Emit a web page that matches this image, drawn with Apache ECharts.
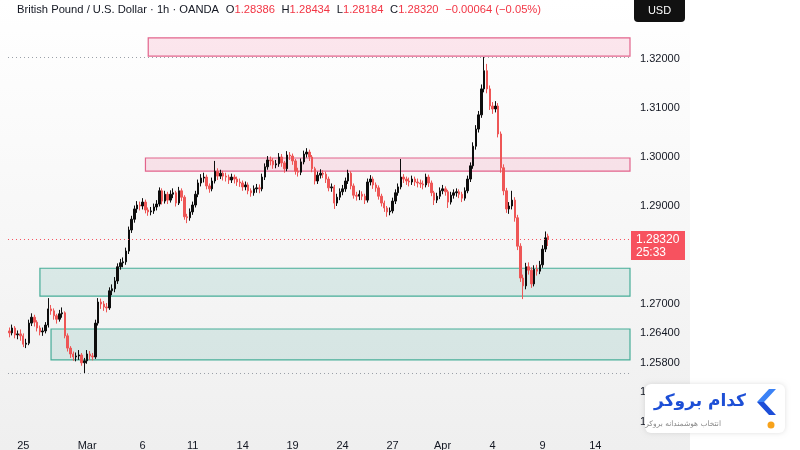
<!DOCTYPE html>
<html>
<head>
<meta charset="utf-8">
<title>GBPUSD 1h</title>
<script src="https://cdn.jsdelivr.net/npm/echarts@6/dist/echarts.min.js"></script>
<style>
  html, body { margin:0; padding:0; background:#fff; }
  #main { width:800px; height:450px; }
</style>
</head>
<body>
<div id="main"></div>
<script type="text/javascript">
// candles, one per 4h slot: [open, close, low, high]
var candles = [
  [1.2645,1.2641,1.2632,1.2652],[1.2641,1.2651,1.2636,1.2658],[1.2651,1.2637,1.2630,1.2655],[1.2637,1.2639,1.2628,1.2646],
  [1.2639,1.2635,1.2625,1.2648],[1.2635,1.2618,1.2612,1.2640],[1.2618,1.2620,1.2610,1.2629],[1.2620,1.2661,1.2616,1.2668],
  [1.2661,1.2673,1.2655,1.2681],[1.2673,1.2663,1.2654,1.2678],[1.2663,1.2651,1.2644,1.2667],[1.2651,1.2643,1.2636,1.2656],
  [1.2643,1.2645,1.2635,1.2652],[1.2645,1.2657,1.2640,1.2663],[1.2657,1.2690,1.2652,1.2712],[1.2690,1.2686,1.2678,1.2698],
  [1.2686,1.2676,1.2668,1.2691],[1.2676,1.2669,1.2660,1.2680],[1.2669,1.2680,1.2664,1.2688],[1.2680,1.2682,1.2672,1.2693],
  [1.2682,1.2635,1.2630,1.2685],[1.2635,1.2610,1.2603,1.2640],[1.2610,1.2598,1.2590,1.2614],[1.2598,1.2592,1.2584,1.2603],
  [1.2592,1.2594,1.2583,1.2601],[1.2594,1.2596,1.2586,1.2606],[1.2596,1.2580,1.2574,1.2600],[1.2580,1.2584,1.2559,1.2590],
  [1.2584,1.2598,1.2578,1.2606],[1.2598,1.2594,1.2586,1.2604],[1.2594,1.2592,1.2585,1.2600],[1.2592,1.2661,1.2588,1.2668],
  [1.2661,1.2704,1.2656,1.2712],[1.2704,1.2700,1.2690,1.2711],[1.2700,1.2694,1.2686,1.2706],[1.2694,1.2692,1.2683,1.2702],
  [1.2692,1.2727,1.2688,1.2734],[1.2727,1.2731,1.2718,1.2740],[1.2731,1.2747,1.2724,1.2755],[1.2747,1.2776,1.2741,1.2783],
  [1.2776,1.2784,1.2770,1.2792],[1.2784,1.2786,1.2775,1.2795],[1.2786,1.2808,1.2780,1.2815],[1.2808,1.2851,1.2802,1.2858],
  [1.2851,1.2873,1.2845,1.2880],[1.2873,1.2894,1.2866,1.2901],[1.2894,1.2902,1.2886,1.2910],[1.2902,1.2900,1.2891,1.2909],
  [1.2900,1.2908,1.2893,1.2916],[1.2908,1.2892,1.2885,1.2913],[1.2892,1.2888,1.2880,1.2897],[1.2888,1.2890,1.2881,1.2898],
  [1.2890,1.2898,1.2884,1.2905],[1.2898,1.2904,1.2891,1.2912],[1.2904,1.2931,1.2899,1.2938],[1.2931,1.2910,1.2903,1.2936],
  [1.2910,1.2924,1.2905,1.2931],[1.2924,1.2912,1.2904,1.2929],[1.2912,1.2924,1.2907,1.2932],[1.2924,1.2927,1.2916,1.2936],
  [1.2927,1.2906,1.2899,1.2931],[1.2906,1.2931,1.2902,1.2939],[1.2931,1.2918,1.2910,1.2936],[1.2918,1.2878,1.2872,1.2922],
  [1.2878,1.2876,1.2865,1.2884],[1.2876,1.2888,1.2870,1.2895],[1.2888,1.2902,1.2882,1.2909],[1.2902,1.2924,1.2897,1.2931],
  [1.2924,1.2947,1.2918,1.2954],[1.2947,1.2957,1.2940,1.2965],[1.2957,1.2959,1.2948,1.2968],[1.2959,1.2941,1.2934,1.2964],
  [1.2941,1.2935,1.2927,1.2946],[1.2935,1.2951,1.2930,1.2958],[1.2951,1.2971,1.2946,1.2992],[1.2971,1.2961,1.2953,1.2977],
  [1.2961,1.2967,1.2955,1.2974],[1.2967,1.2961,1.2952,1.2972],[1.2961,1.2959,1.2950,1.2968],[1.2959,1.2953,1.2945,1.2964],
  [1.2953,1.2959,1.2947,1.2966],[1.2959,1.2955,1.2946,1.2964],[1.2955,1.2949,1.2941,1.2960],[1.2949,1.2947,1.2939,1.2956],
  [1.2947,1.2939,1.2931,1.2952],[1.2939,1.2943,1.2932,1.2950],[1.2943,1.2931,1.2924,1.2948],[1.2931,1.2927,1.2919,1.2936],
  [1.2927,1.2935,1.2921,1.2942],[1.2935,1.2937,1.2927,1.2945],[1.2937,1.2935,1.2926,1.2944],[1.2935,1.2959,1.2930,1.2966],
  [1.2959,1.2980,1.2953,1.2987],[1.2980,1.2994,1.2974,1.3002],[1.2994,1.2992,1.2983,1.3001],[1.2992,1.2984,1.2976,1.2998],
  [1.2984,1.2986,1.2977,1.2994],[1.2986,1.3000,1.2980,1.3008],[1.3000,1.2988,1.2980,1.3006],[1.2988,1.2976,1.2968,1.2992],
  [1.2976,1.3004,1.2971,1.3012],[1.3004,1.3002,1.2994,1.3010],[1.3002,1.2992,1.2984,1.3007],[1.2992,1.2971,1.2964,1.2996],
  [1.2971,1.2969,1.2960,1.2978],[1.2969,1.2990,1.2963,1.2997],[1.2990,1.3006,1.2985,1.3013],[1.3006,1.3010,1.2999,1.3018],
  [1.3010,1.3000,1.2992,1.3015],[1.3000,1.2976,1.2969,1.3004],[1.2976,1.2951,1.2944,1.2980],[1.2951,1.2963,1.2945,1.2970],
  [1.2963,1.2967,1.2956,1.2975],[1.2967,1.2965,1.2957,1.2973],[1.2965,1.2955,1.2947,1.2970],[1.2955,1.2937,1.2930,1.2960],
  [1.2937,1.2939,1.2929,1.2946],[1.2939,1.2906,1.2894,1.2943],[1.2906,1.2918,1.2900,1.2925],[1.2918,1.2929,1.2912,1.2936],
  [1.2929,1.2935,1.2922,1.2943],[1.2935,1.2951,1.2929,1.2958],[1.2951,1.2967,1.2945,1.2974],[1.2967,1.2941,1.2934,1.2971],
  [1.2941,1.2922,1.2915,1.2946],[1.2922,1.2920,1.2911,1.2929],[1.2920,1.2924,1.2912,1.2932],[1.2924,1.2920,1.2912,1.2930],
  [1.2920,1.2912,1.2904,1.2925],[1.2912,1.2949,1.2907,1.2956],[1.2949,1.2955,1.2942,1.2963],[1.2955,1.2943,1.2935,1.2960],
  [1.2943,1.2937,1.2929,1.2948],[1.2937,1.2920,1.2913,1.2942],[1.2920,1.2906,1.2899,1.2925],[1.2906,1.2896,1.2888,1.2911],
  [1.2896,1.2888,1.2878,1.2900],[1.2888,1.2890,1.2881,1.2897],[1.2890,1.2910,1.2885,1.2917],[1.2910,1.2927,1.2904,1.2934],
  [1.2927,1.2939,1.2921,1.2946],[1.2939,1.2959,1.2934,1.2996],[1.2959,1.2955,1.2947,1.2965],[1.2955,1.2951,1.2943,1.2960],
  [1.2951,1.2949,1.2940,1.2958],[1.2949,1.2955,1.2943,1.2962],[1.2955,1.2949,1.2941,1.2960],[1.2949,1.2947,1.2938,1.2956],
  [1.2947,1.2945,1.2937,1.2954],[1.2945,1.2943,1.2934,1.2952],[1.2943,1.2959,1.2938,1.2966],[1.2959,1.2947,1.2939,1.2964],
  [1.2947,1.2927,1.2920,1.2952],[1.2927,1.2912,1.2902,1.2931],[1.2912,1.2920,1.2906,1.2927],[1.2920,1.2931,1.2914,1.2938],
  [1.2931,1.2935,1.2924,1.2943],[1.2935,1.2929,1.2921,1.2940],[1.2929,1.2908,1.2896,1.2933],[1.2908,1.2922,1.2903,1.2929],
  [1.2922,1.2927,1.2915,1.2934],[1.2927,1.2929,1.2919,1.2936],[1.2929,1.2924,1.2916,1.2934],[1.2924,1.2916,1.2908,1.2929],
  [1.2916,1.2931,1.2911,1.2938],[1.2931,1.2955,1.2926,1.2962],[1.2955,1.2982,1.2949,1.2989],[1.2982,1.3022,1.2976,1.3030],
  [1.3022,1.3057,1.3015,1.3065],[1.3057,1.3086,1.3050,1.3094],[1.3086,1.3139,1.3080,1.3148],[1.3139,1.3176,1.3132,1.3204],
  [1.3176,1.3139,1.3130,1.3190],[1.3139,1.3104,1.3096,1.3146],[1.3104,1.3098,1.3088,1.3112],[1.3098,1.3104,1.3091,1.3114],
  [1.3104,1.3047,1.3040,1.3110],[1.3047,1.2978,1.2968,1.3052],[1.2978,1.2931,1.2922,1.2985],[1.2931,1.2894,1.2886,1.2937],
  [1.2894,1.2900,1.2884,1.2908],[1.2900,1.2912,1.2893,1.2931],[1.2912,1.2876,1.2868,1.2918],[1.2876,1.2818,1.2810,1.2882],
  [1.2818,1.2753,1.2745,1.2824],[1.2753,1.2737,1.2710,1.2760],[1.2737,1.2776,1.2730,1.2784],[1.2776,1.2769,1.2760,1.2785],
  [1.2769,1.2741,1.2733,1.2775],[1.2741,1.2771,1.2736,1.2779],[1.2771,1.2767,1.2758,1.2780],[1.2767,1.2780,1.2761,1.2788],
  [1.2780,1.2812,1.2774,1.2820],[1.2812,1.2835,1.2806,1.2848],[1.28386,1.28320,1.28184,1.28434]
];

var slotCount = 224;   // 4h slots on the time axis, incl. empty future space
var xTickIdx  = [5, 28, 48, 66, 84, 102, 120, 138, 156, 174, 192, 211];
var xTickText = ['25', 'Mar', '6', '11', '14', '19', '24', '27', 'Apr', '4', '9', '14'];
var yTicks    = [1.32, 1.31, 1.30, 1.29, 1.27, 1.264, 1.258, 1.252, 1.246];

// drawn zones
var zoneStart  = [50, 49, 11, 15];
var zoneTop    = [1.3243, 1.2998, 1.2773, 1.2649];
var zoneBottom = [1.3206, 1.2971, 1.2716, 1.2586];
var zoneKind   = ['sell', 'sell', 'buy', 'buy'];

// horizontal price lines: last price, period high, period low
var linePrice = [1.2832, 1.3204, 1.2559];
var lineKind  = ['last', 'hl', 'hl'];
var countdown = '25:33';

var slots = [];
for (var i = 0; i < slotCount; i++) slots.push(i);

var zoneData = [];
for (var k = 0; k < zoneStart.length; k++) zoneData.push([zoneStart[k], zoneTop[k], zoneBottom[k], k]);
var lineData = [];
for (var m = 0; m < linePrice.length; m++) lineData.push([0, linePrice[m], m]);

var upCol = '#0d0d0d', downCol = '#ee5656';
var FONT = '"Liberation Sans", Arial, sans-serif';

var myChart = echarts.init(document.getElementById('main'));

var option = {
  animation: false,
  backgroundColor: '#ffffff',
  textStyle: { fontFamily: FONT },
  grid: { left: 8, right: 170, top: 0, height: 436, outerBoundsMode: 'none', containLabel: false },
  xAxis: {
    type: 'category', data: slots, boundaryGap: true,
    axisLine: { show: false }, axisTick: { show: false }, splitLine: { show: false },
    axisLabel: {
      color: '#131722', fontSize: 11, margin: 4, fontFamily: FONT,
      interval: function (idx) { return xTickIdx.indexOf(idx) >= 0; },
      formatter: function (v, idx) { var j = xTickIdx.indexOf(idx); return j >= 0 ? xTickText[j] : ''; }
    }
  },
  yAxis: {
    type: 'value', position: 'right',
    min: 1.243061, max: 1.332041,
    axisLine: { show: false }, axisTick: { show: false }, splitLine: { show: false },
    axisLabel: {
      customValues: yTicks, color: '#131722', fontSize: 11, margin: 10, fontFamily: FONT,
      formatter: function (v) { return v.toFixed(5); }
    }
  },
  graphic: [
    { type: 'rect', z: -10, shape: { x: 0, y: 0, width: 690, height: 450 },
      style: { fill: new echarts.graphic.LinearGradient(0, 0, 0, 1, [{ offset: 0, color: '#ffffff' }, { offset: 1, color: '#efefef' }]) } },
    { type: 'rect', z: 10, shape: { x: 634, y: 0, width: 51, height: 22, r: [0, 0, 4, 4] }, style: { fill: '#111111' } },
    { type: 'text', z: 11, style: { x: 659.5, y: 11, text: 'USD', fill: '#ffffff', font: '11px ' + FONT, align: 'center', verticalAlign: 'middle', textAlign: 'center', textVerticalAlign: 'middle' } },
    { type: 'text', z: 11, style: {
        x: 17, y: 10, verticalAlign: 'middle', textVerticalAlign: 'middle',
        text: '{t|British Pound / U.S. Dollar · 1h · OANDA}  {k|O}{v|1.28386}  {k|H}{v|1.28434}  {k|L}{v|1.28184}  {k|C}{v|1.28320}  {v|−0.00064 (−0.05%)}',
        rich: {
          t: { fill: '#131722', font: '11.2px ' + FONT },
          k: { fill: '#131722', font: '11.2px ' + FONT },
          v: { fill: '#f23645', font: '11.2px ' + FONT }
        }
      } },
    // watermark
    { type: 'rect', z: 20, shape: { x: 645, y: 384, width: 140, height: 49, r: 6 },
      style: { fill: '#ffffff', shadowBlur: 5, shadowColor: 'rgba(0,0,0,0.12)' } },
    { type: 'text', z: 21, style: { x: 746, y: 402, text: 'کدام بروکر', fill: '#1d4fd6', font: 'bold 17px "DejaVu Sans"', align: 'right', verticalAlign: 'middle', textAlign: 'right', textVerticalAlign: 'middle' } },
    { type: 'text', z: 21, style: { x: 721, y: 424, text: 'انتخاب هوشمندانه بروکر', fill: '#8a8a8a', font: '7.5px "DejaVu Sans"', align: 'right', verticalAlign: 'middle', textAlign: 'right', textVerticalAlign: 'middle' } },
    { type: 'polygon', z: 21, shape: { points: [[776, 389], [769, 389], [757, 402], [769, 415], [776, 415], [764, 402]] },
      style: { fill: new echarts.graphic.LinearGradient(0, 0, 0, 1, [{ offset: 0, color: '#3b82f6' }, { offset: 0.5, color: '#3b82f6' }, { offset: 0.5, color: '#1d4ed8' }, { offset: 1, color: '#1d4ed8' }]) } },
    { type: 'circle', z: 21, shape: { cx: 771, cy: 425, r: 3.5 }, style: { fill: '#f7a21b' } }
  ],
  series: [
    {
      type: 'custom', name: 'zones', z: 1, silent: true,
      data: zoneData,
      encode: { x: 0, y: [1, 2] },
      renderItem: function (params, api) {
        var k = api.value(3);
        var p1 = api.coord([api.value(0), api.value(1)]);
        var p2 = api.coord([api.value(0), api.value(2)]);
        var right = params.coordSys.x + params.coordSys.width;
        var sell = zoneKind[k] === 'sell';
        return {
          type: 'rect',
          shape: { x: p1[0], y: p1[1], width: right - p1[0], height: p2[1] - p1[1] },
          style: {
            fill: sell ? 'rgba(242, 70, 120, 0.13)' : 'rgba(30, 150, 130, 0.13)',
            stroke: sell ? '#e2648c' : '#46ad98', lineWidth: 1.2
          }
        };
      }
    },
    {
      type: 'candlestick', name: 'GBPUSD', z: 3,
      data: candles,
      barWidth: '70%',
      itemStyle: { color: upCol, color0: downCol, borderColor: upCol, borderColor0: downCol, borderWidth: 1 }
    },
    {
      type: 'custom', name: 'priceLines', z: 5, silent: true, clip: false,
      data: lineData,
      encode: { x: 0, y: 1 },
      renderItem: function (params, api) {
        var cs = params.coordSys;
        var price = api.value(1);
        var y = Math.round(api.coord([0, price])[1]) + 0.5;
        var last = lineKind[api.value(2)] === 'last';
        var col = last ? '#f7525f' : '#9aa0a8';
        var kids = [{ type: 'line', shape: { x1: cs.x, y1: y, x2: cs.x + cs.width, y2: y },
                      style: { stroke: col, lineWidth: 1, lineDash: [1, 3] } }];
        if (last) {
          var lx = cs.x + cs.width + 1;
          kids.push({ type: 'rect', shape: { x: lx, y: y - 8.5, width: 54, height: 29 }, style: { fill: col } });
          kids.push({ type: 'text', style: { x: lx + 5, y: y, text: price.toFixed(5), fill: '#fff', font: '12px ' + FONT, verticalAlign: 'middle', textVerticalAlign: 'middle' } });
          kids.push({ type: 'text', style: { x: lx + 5, y: y + 13, text: countdown, fill: '#fff', font: '12px ' + FONT, verticalAlign: 'middle', textVerticalAlign: 'middle' } });
        }
        return { type: 'group', children: kids };
      }
    }
  ]
};

myChart.setOption(option);
</script>
</body>
</html>
